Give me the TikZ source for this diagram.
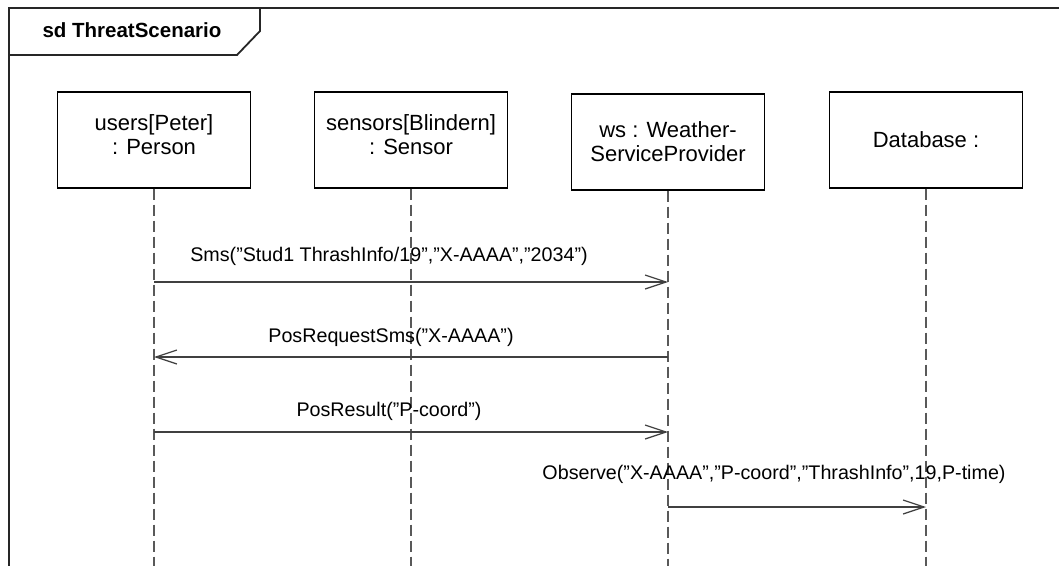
\documentclass[tikz,border=0pt]{standalone}
\usepackage{fontspec}
\setmainfont{Liberation Sans}
\usetikzlibrary{arrows.meta}
\begin{document}
\begin{tikzpicture}[x=1pt,y=-1pt,
  frameline/.style={line width=1.8pt, draw=black!85},
  lifebox/.style={draw=black, line width=1.3pt, fill=white, minimum width=193pt,
    minimum height=96pt, inner sep=0pt},
  boxtext/.style={align=center, font=\fontsize{22}{24}\selectfont, inner sep=0pt},
  lifeline/.style={draw=black!65, line width=1.3pt, dash pattern=on 11pt off 5pt},
  msg/.style={draw=black!75, line width=1.2pt,
    -{Straight Barb[length=21pt,width=14pt,line width=1.2pt]}},
  msglabel/.style={font=\fontsize{19.7}{22}\selectfont, inner sep=0pt},
  titletext/.style={font=\bfseries\fontsize{20.5}{23}\selectfont, inner sep=0pt}]

\useasboundingbox (0,0) rectangle (1059,565);
\clip (0,0) rectangle (1059,565);
\fill[white] (0,0) rectangle (1059,565);

% diagram frame and name tab
\draw[frameline] (9,600) -- (9,8) -- (1080,8);
\draw[frameline] (9,55) -- (237,55) -- (260,31) -- (260,8);
\node[titletext] (title) at (132,30) {sd ThreatScenario};

% lifeline heads
\node[lifebox] (P) at (154,140) {};
\node[lifebox] (S) at (411,140) {};
\node[lifebox] (W) at (668,142) {};
\node[lifebox] (D) at (926,140) {};
\node[boxtext] (Pt) at ([yshift=5pt]P.center) {users[Peter]\\: Person};
\node[boxtext] (St) at ([yshift=5pt]S.center) {sensors[Blindern]\\: Sensor};
\node[boxtext] (Wt) at (W.center) {ws : Weather-\\ServiceProvider};
\node[boxtext] (Dt) at (D.center) {Database :};

% lifelines
\coordinate (Pend) at (154,600);
\coordinate (Send) at (411,600);
\coordinate (Wend) at (668,600);
\coordinate (Dend) at (926,600);
\draw[lifeline] (P.south) -- (Pend);
\draw[lifeline] (S.south) -- (Send);
\draw[lifeline] (W.south) -- (Wend);
\draw[lifeline] (D.south) -- (Dend);

% messages
\draw[msg] (P.south |- 0,282) -- (W.south |- 0,282);
\node[msglabel] (m1) at (389,256) {Sms(”Stud1 ThrashInfo/19”,”X-AAAA”,”2034”)};

\draw[msg] (W.south |- 0,357) -- (P.south |- 0,357);
\node[msglabel] (m2) at (391,337) {PosRequestSms(”X-AAAA”)};

\draw[msg] (P.south |- 0,432) -- (W.south |- 0,432);
\node[msglabel] (m3) at (389,411) {PosResult(”P-coord”)};

\draw[msg] (W.south |- 0,507) -- (D.south |- 0,507);
\node[msglabel] (m4) at (774,474) {Observe(”X-AAAA”,”P-coord”,”ThrashInfo”,19,P-time)};
\end{tikzpicture}
\end{document}
